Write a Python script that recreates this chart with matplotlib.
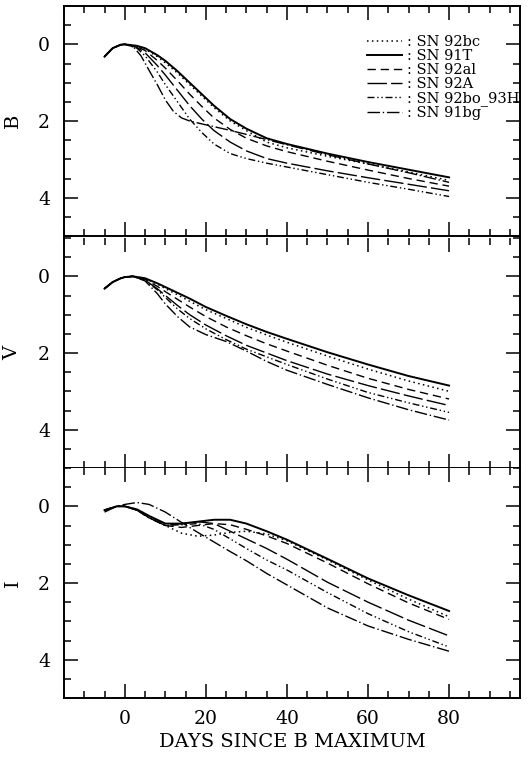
import matplotlib
matplotlib.use("Agg")
import matplotlib.pyplot as plt
from matplotlib.ticker import MultipleLocator

# nombres y estilos de las supernovas
nombres = ["SN 92bc", "SN 91T", "SN 92al", "SN 92A", "SN 92bo_93H", "SN 91bg"]

# banda B (dias, magnitud relativa al maximo)
b_dias = [-5, -3, -1, 0, 3, 5, 8, 10, 13, 16, 19, 22, 26, 30, 35, 40, 50, 60, 70, 80]
b_91bg_dias = [-5, -3, -1, 0, 2, 4, 6, 8, 10, 12, 14, 16, 20, 25, 30, 40, 50, 60, 70, 80]
b_92bc = [0.32, 0.1, 0.01, 0.0, 0.04, 0.12, 0.32, 0.48, 0.75, 1.05, 1.35, 1.65, 2.0, 2.25, 2.55, 2.7, 2.92, 3.12, 3.33, 3.55]
b_91T = [0.32, 0.1, 0.01, 0.0, 0.04, 0.1, 0.28, 0.43, 0.7, 1.0, 1.3, 1.6, 1.95, 2.2, 2.45, 2.6, 2.85, 3.07, 3.27, 3.47]
b_92al = [0.32, 0.1, 0.01, 0.0, 0.06, 0.16, 0.42, 0.62, 0.95, 1.3, 1.62, 1.92, 2.22, 2.45, 2.65, 2.8, 3.05, 3.28, 3.5, 3.7]
b_92A = [0.32, 0.1, 0.01, 0.0, 0.08, 0.22, 0.55, 0.8, 1.2, 1.6, 1.95, 2.25, 2.55, 2.78, 2.98, 3.1, 3.3, 3.48, 3.65, 3.82]
b_92bo = [0.32, 0.1, 0.01, 0.0, 0.1, 0.3, 0.72, 1.05, 1.5, 1.95, 2.3, 2.6, 2.85, 2.98, 3.1, 3.2, 3.4, 3.6, 3.78, 3.97]
b_91bg = [0.32, 0.1, 0.01, 0.0, 0.05, 0.3, 0.68, 1.05, 1.45, 1.75, 1.92, 2.0, 2.1, 2.22, 2.35, 2.62, 2.88, 3.12, 3.35, 3.6]

# banda V
v_dias = [-5, -3, -1, 0, 2, 5, 8, 10, 13, 16, 20, 25, 30, 35, 40, 50, 60, 70, 80]
v_92bc = [0.32, 0.15, 0.05, 0.02, 0.0, 0.06, 0.2, 0.32, 0.48, 0.65, 0.87, 1.1, 1.33, 1.53, 1.72, 2.08, 2.42, 2.73, 3.0]
v_91T = [0.32, 0.15, 0.05, 0.02, 0.0, 0.05, 0.18, 0.28, 0.43, 0.58, 0.8, 1.03, 1.25, 1.45, 1.63, 1.98, 2.3, 2.6, 2.85]
v_92al = [0.32, 0.15, 0.05, 0.02, 0.0, 0.08, 0.26, 0.4, 0.6, 0.8, 1.05, 1.32, 1.55, 1.76, 1.95, 2.32, 2.66, 2.95, 3.2]
v_92A = [0.32, 0.15, 0.05, 0.02, 0.0, 0.1, 0.32, 0.5, 0.76, 1.0, 1.27, 1.55, 1.8, 2.0, 2.2, 2.55, 2.85, 3.12, 3.37]
v_92bo = [0.32, 0.15, 0.05, 0.02, 0.0, 0.1, 0.35, 0.55, 0.85, 1.1, 1.37, 1.65, 1.9, 2.1, 2.3, 2.68, 3.03, 3.3, 3.55]
v_91bg = [0.32, 0.15, 0.05, 0.02, 0.0, 0.12, 0.45, 0.72, 1.05, 1.32, 1.52, 1.7, 1.95, 2.22, 2.45, 2.82, 3.17, 3.48, 3.75]

# banda I
i_dias = [-5, -2, 0, 3, 6, 10, 14, 18, 22, 26, 30, 35, 40, 50, 60, 70, 80]
i_92bc = [0.1, 0.0, 0.0, 0.08, 0.25, 0.5, 0.7, 0.78, 0.75, 0.68, 0.65, 0.72, 0.9, 1.4, 1.92, 2.42, 2.88]
i_91T = [0.1, 0.0, 0.0, 0.08, 0.25, 0.45, 0.45, 0.4, 0.35, 0.35, 0.45, 0.65, 0.87, 1.37, 1.88, 2.32, 2.73]
i_92al = [0.1, 0.0, 0.0, 0.1, 0.3, 0.5, 0.55, 0.5, 0.45, 0.48, 0.6, 0.77, 0.97, 1.48, 2.02, 2.52, 2.95]
i_92A = [0.1, 0.0, 0.0, 0.1, 0.3, 0.5, 0.45, 0.4, 0.45, 0.65, 0.85, 1.1, 1.38, 1.98, 2.5, 2.97, 3.38]
i_92bo = [0.1, 0.0, 0.0, 0.1, 0.3, 0.5, 0.48, 0.45, 0.6, 0.85, 1.1, 1.4, 1.66, 2.25, 2.8, 3.27, 3.67]
i_91bg = [0.15, 0.0, -0.05, -0.1, -0.05, 0.15, 0.42, 0.68, 0.93, 1.18, 1.42, 1.75, 2.05, 2.65, 3.12, 3.47, 3.78]

estilos = [
    dict(ls=(0, (1, 2.2)), lw=1.1),
    dict(ls="-", lw=1.4),
    dict(ls=(0, (6, 3.5)), lw=1.0),
    dict(ls=(0, (14, 3)), lw=1.0),
    dict(ls=(0, (5, 2, 1, 2, 1, 2)), lw=1.0),
    dict(ls=(0, (9, 2, 1, 2)), lw=1.0),
]

plt.rcParams["font.family"] = "DejaVu Serif"

fig = plt.figure(figsize=(5.30, 7.59), dpi=100)
izq, ancho, alto = 64 / 530, 456 / 530, 230 / 759
bases = [523 / 759, 291 / 759, 61 / 759]

bandas = [
    ("B", [(b_dias, b_92bc), (b_dias, b_91T), (b_dias, b_92al), (b_dias, b_92A), (b_dias, b_92bo), (b_91bg_dias, b_91bg)]),
    ("V", [(v_dias, v_92bc), (v_dias, v_91T), (v_dias, v_92al), (v_dias, v_92A), (v_dias, v_92bo), (v_dias, v_91bg)]),
    ("I", [(i_dias, i_92bc), (i_dias, i_91T), (i_dias, i_92al), (i_dias, i_92A), (i_dias, i_92bo), (i_dias, i_91bg)]),
]

ejes = []
for k, (banda, curvas) in enumerate(bandas):
    ax = fig.add_axes([izq, bases[k], ancho, alto])
    for (dias, mags), nombre, est in zip(curvas, nombres, estilos):
        ax.plot(dias, mags, color="black", label=": " + nombre, **est)
    ax.set_xlim(-15, 97.5)
    ax.set_ylim(5, -1)
    ax.xaxis.set_major_locator(MultipleLocator(20))
    ax.xaxis.set_minor_locator(MultipleLocator(5))
    ax.yaxis.set_major_locator(MultipleLocator(2))
    ax.yaxis.set_minor_locator(MultipleLocator(0.5))
    ax.tick_params(which="both", direction="in", top=True, right=True, width=1.1)
    ax.tick_params(which="major", length=10, labelsize=13.5)
    ax.tick_params(axis="y", which="major", pad=10)
    ax.tick_params(axis="x", which="major", pad=9)
    ax.tick_params(which="minor", length=5)
    for s in ax.spines.values():
        s.set_linewidth(1.4)
    if k > 0:
        ax.spines["top"].set_visible(False)
    ax.set_ylabel(banda, fontsize=14, labelpad=12)
    if k < 2:
        ax.tick_params(labelbottom=False)
    ejes.append(ax)

ejes[-1].set_xlabel("DAYS SINCE B MAXIMUM", fontsize=14, labelpad=3)

ejes[0].legend(loc="upper left", bbox_to_anchor=(0.665, 0.875), frameon=False,
               fontsize=10.5, handlelength=2.4, handletextpad=0.3,
               labelspacing=0.0, borderpad=0, borderaxespad=0)

fig.savefig("out.png", dpi=100)
